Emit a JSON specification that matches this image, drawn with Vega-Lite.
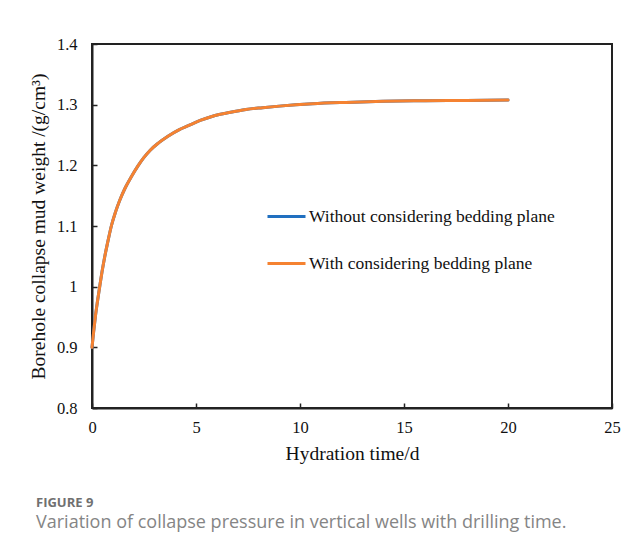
{
  "$schema": "https://vega.github.io/schema/vega-lite/v6.json",
  "width": 520,
  "height": 364,
  "autosize": {"type": "none"},
  "padding": {"left": 92, "top": 44, "right": 26, "bottom": 148},
  "background": "white",
  "title": {
    "text": "FIGURE 9",
    "subtitle": "Variation of collapse pressure in vertical wells with drilling time.",
    "orient": "bottom",
    "anchor": "start",
    "frame": "group",
    "dx": -56,
    "offset": 34,
    "font": "Open Sans",
    "fontSize": 13,
    "fontWeight": "bold",
    "color": "#707070",
    "subtitleFont": "Open Sans",
    "subtitleFontSize": 18,
    "subtitleColor": "#858585",
    "subtitlePadding": 4
  },
  "data": {
    "values": [
      {"t": 0, "v": 0.9, "s": "Without considering bedding plane"},
      {"t": 0.08, "v": 0.926, "s": "Without considering bedding plane"},
      {"t": 0.16, "v": 0.95, "s": "Without considering bedding plane"},
      {"t": 0.26, "v": 0.975, "s": "Without considering bedding plane"},
      {"t": 0.37, "v": 1.0, "s": "Without considering bedding plane"},
      {"t": 0.48, "v": 1.024, "s": "Without considering bedding plane"},
      {"t": 0.61, "v": 1.049, "s": "Without considering bedding plane"},
      {"t": 0.76, "v": 1.074, "s": "Without considering bedding plane"},
      {"t": 0.93, "v": 1.1, "s": "Without considering bedding plane"},
      {"t": 1.12, "v": 1.122, "s": "Without considering bedding plane"},
      {"t": 1.33, "v": 1.142, "s": "Without considering bedding plane"},
      {"t": 1.6, "v": 1.163, "s": "Without considering bedding plane"},
      {"t": 1.89, "v": 1.181, "s": "Without considering bedding plane"},
      {"t": 2.21, "v": 1.199, "s": "Without considering bedding plane"},
      {"t": 2.5, "v": 1.213, "s": "Without considering bedding plane"},
      {"t": 2.8, "v": 1.225, "s": "Without considering bedding plane"},
      {"t": 3.2, "v": 1.237, "s": "Without considering bedding plane"},
      {"t": 3.65, "v": 1.248, "s": "Without considering bedding plane"},
      {"t": 4.2, "v": 1.259, "s": "Without considering bedding plane"},
      {"t": 4.6, "v": 1.265, "s": "Without considering bedding plane"},
      {"t": 5.2, "v": 1.274, "s": "Without considering bedding plane"},
      {"t": 5.8, "v": 1.281, "s": "Without considering bedding plane"},
      {"t": 6.6, "v": 1.287, "s": "Without considering bedding plane"},
      {"t": 7.4, "v": 1.292, "s": "Without considering bedding plane"},
      {"t": 8.2, "v": 1.295, "s": "Without considering bedding plane"},
      {"t": 9, "v": 1.2976, "s": "Without considering bedding plane"},
      {"t": 10.6, "v": 1.3015, "s": "Without considering bedding plane"},
      {"t": 12.2, "v": 1.3037, "s": "Without considering bedding plane"},
      {"t": 14, "v": 1.3055, "s": "Without considering bedding plane"},
      {"t": 16, "v": 1.3065, "s": "Without considering bedding plane"},
      {"t": 18, "v": 1.307, "s": "Without considering bedding plane"},
      {"t": 20, "v": 1.3075, "s": "Without considering bedding plane"},
      {"t": 0, "v": 0.9, "s": "With considering bedding plane"},
      {"t": 0.08, "v": 0.926, "s": "With considering bedding plane"},
      {"t": 0.16, "v": 0.95, "s": "With considering bedding plane"},
      {"t": 0.26, "v": 0.975, "s": "With considering bedding plane"},
      {"t": 0.37, "v": 1.0, "s": "With considering bedding plane"},
      {"t": 0.48, "v": 1.024, "s": "With considering bedding plane"},
      {"t": 0.61, "v": 1.049, "s": "With considering bedding plane"},
      {"t": 0.76, "v": 1.074, "s": "With considering bedding plane"},
      {"t": 0.93, "v": 1.1, "s": "With considering bedding plane"},
      {"t": 1.12, "v": 1.122, "s": "With considering bedding plane"},
      {"t": 1.33, "v": 1.142, "s": "With considering bedding plane"},
      {"t": 1.6, "v": 1.163, "s": "With considering bedding plane"},
      {"t": 1.89, "v": 1.181, "s": "With considering bedding plane"},
      {"t": 2.21, "v": 1.199, "s": "With considering bedding plane"},
      {"t": 2.5, "v": 1.213, "s": "With considering bedding plane"},
      {"t": 2.8, "v": 1.225, "s": "With considering bedding plane"},
      {"t": 3.2, "v": 1.237, "s": "With considering bedding plane"},
      {"t": 3.65, "v": 1.248, "s": "With considering bedding plane"},
      {"t": 4.2, "v": 1.259, "s": "With considering bedding plane"},
      {"t": 4.6, "v": 1.265, "s": "With considering bedding plane"},
      {"t": 5.2, "v": 1.274, "s": "With considering bedding plane"},
      {"t": 5.8, "v": 1.281, "s": "With considering bedding plane"},
      {"t": 6.6, "v": 1.287, "s": "With considering bedding plane"},
      {"t": 7.4, "v": 1.292, "s": "With considering bedding plane"},
      {"t": 8.2, "v": 1.295, "s": "With considering bedding plane"},
      {"t": 9, "v": 1.2976, "s": "With considering bedding plane"},
      {"t": 10.6, "v": 1.3015, "s": "With considering bedding plane"},
      {"t": 12.2, "v": 1.3037, "s": "With considering bedding plane"},
      {"t": 14, "v": 1.3055, "s": "With considering bedding plane"},
      {"t": 16, "v": 1.3065, "s": "With considering bedding plane"},
      {"t": 18, "v": 1.307, "s": "With considering bedding plane"},
      {"t": 20, "v": 1.3075, "s": "With considering bedding plane"}
    ]
  },
  "layer": [
    {
      "transform": [{"filter": "datum.s === 'Without considering bedding plane'"}],
      "mark": {"type": "line", "strokeWidth": 3, "strokeCap": "round", "interpolate": "monotone"},
      "encoding": {
        "x": {"field": "t", "type": "quantitative"},
        "y": {"field": "v", "type": "quantitative"},
        "color": {"field": "s", "type": "nominal"}
      }
    },
    {
      "transform": [{"filter": "datum.s === 'With considering bedding plane'"}],
      "mark": {"type": "line", "strokeWidth": 3, "strokeCap": "round", "interpolate": "monotone"},
      "encoding": {
        "x": {"field": "t", "type": "quantitative"},
        "y": {"field": "v", "type": "quantitative"},
        "color": {"field": "s", "type": "nominal"}
      }
    }
  ],
  "encoding": {
    "x": {
      "field": "t",
      "type": "quantitative",
      "title": "Hydration time/d",
      "scale": {"domain": [0, 25], "nice": false},
      "axis": {"values": [0, 5, 10, 15, 20, 25], "labelPadding": 16, "titlePadding": 9}
    },
    "y": {
      "field": "v",
      "type": "quantitative",
      "title": "Borehole collapse mud weight /(g/cm³)",
      "scale": {"domain": [0.8, 1.4], "nice": false, "zero": false},
      "axis": {"values": [0.8, 0.9, 1.0, 1.1, 1.2, 1.3, 1.4], "format": ".1~f", "labelPadding": 20, "titlePadding": 8}
    },
    "color": {
      "field": "s",
      "type": "nominal",
      "scale": {
        "domain": ["Without considering bedding plane", "With considering bedding plane"],
        "range": ["#2170c0", "#f58231"]
      },
      "legend": {
        "title": null,
        "orient": "none",
        "legendX": 174,
        "legendY": 152,
        "symbolType": "stroke",
        "symbolSize": 1444,
        "symbolStrokeWidth": 3,
        "labelFont": "Liberation Serif",
        "labelFontSize": 17.5,
        "labelColor": "#111",
        "labelOffset": 2,
        "rowPadding": 18,
        "labelLimit": 400
      }
    }
  },
  "config": {
    "view": {"stroke": "#222", "strokeWidth": 2},
    "axis": {
      "grid": false,
      "labelFlush": false,
      "labelOverlap": false,
      "domainColor": "#222",
      "domainWidth": 2,
      "tickColor": "#222",
      "tickWidth": 1.5,
      "tickSize": -5,
      "labelFont": "Liberation Serif",
      "labelFontSize": 16.5,
      "labelColor": "#111",
      "titleFont": "Liberation Serif",
      "titleFontSize": 19.5,
      "titleFontWeight": "normal",
      "titleColor": "#111"
    }
  }
}
